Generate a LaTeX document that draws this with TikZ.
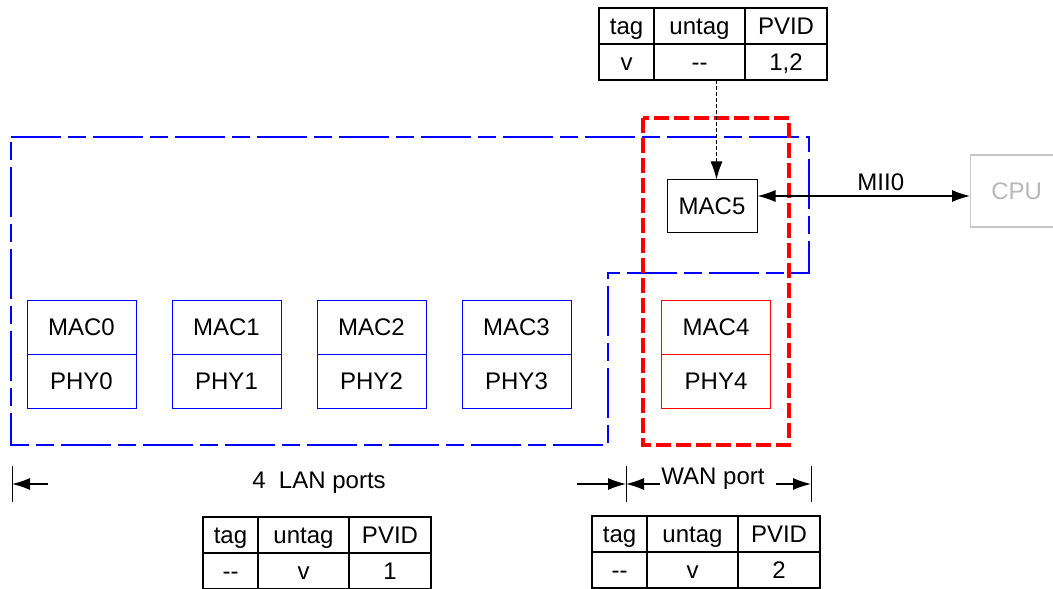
\documentclass[tikz,border=0pt]{standalone}
\usepackage{fontspec}
\setmainfont{Liberation Sans}
\usetikzlibrary{arrows.meta,positioning}
\begin{document}
\begin{tikzpicture}[x=0.5pt, y=-0.5pt, font=\fontsize{12}{14}\selectfont, >={Latex[length=9pt,width=6pt]},
    port/.style={draw=blue, line width=0.5pt, minimum width=54.5pt, minimum height=27pt, inner sep=0pt, outer sep=0pt, text height=11pt, text depth=2.5pt},
    cell/.style={draw, line width=0.6pt, minimum height=18pt, inner sep=0pt, outer sep=0pt, text height=11pt, text depth=2.5pt}]
    \useasboundingbox (0,0) rectangle (1053,588);
    \draw[blue, line width=1pt, dash pattern=on 25pt off 3.5pt on 9pt off 3.5pt] (11,137) -- (809,137) -- (809,273) -- (608,273) -- (608,445) -- (11,445) -- cycle;
    \draw[red, line width=2pt, dash pattern=on 7.5pt off 2.5pt] (643,118) rectangle (789,445);
    \foreach \i in {0,...,3} {\node[port] (mac\i) at (81.5+145*\i,327) {MAC\i}; \node[port, below=0pt of mac\i] (phy\i) {PHY\i};}
    \node[port, draw=red] (mac4) at (716,327) {MAC4}; \node[port, draw=red, below=0pt of mac4] (phy4) {PHY4};
    \node[draw, line width=0.5pt, minimum width=45pt, minimum height=26pt, inner sep=0pt, text height=11pt, text depth=2.5pt] (mac5) at (712,206) {MAC5};
    \node[draw=black!22, text=black!28, line width=0.6pt, minimum width=46pt, minimum height=36pt, anchor=west] (cpu) at (970,191) {CPU};
    \foreach \t/\x/\y/\a/\b/\c in {top/599/8/v/\mbox{-}\mbox{-}/{1,2}, lan/203/517/\mbox{-}\mbox{-}/v/1, wan/592/516/\mbox{-}\mbox{-}/v/2} {
        \node[cell, minimum width=27.5pt, anchor=north west] (\t-tag) at (\x,\y) {tag};
        \node[cell, minimum width=45.5pt, right=0pt of \t-tag] (\t-untag) {untag};
        \node[cell, minimum width=41pt, right=0pt of \t-untag] (\t-pvid) {PVID};
        \node[cell, minimum width=27.5pt, below=0pt of \t-tag] (\t-a) {\a};
        \node[cell, minimum width=45.5pt, below=0pt of \t-untag] (\t-b) {\b};
        \node[cell, minimum width=41pt, below=0pt of \t-pvid] (\t-c) {\c};
    }
    \draw[->, line width=0.5pt, dash pattern=on 2pt off 1pt] ([xshift=8.5pt]top-b.south) -- ([xshift=8.5pt]top-b.south |- mac5.north);
    \draw[<->, line width=0.6pt] ([yshift=5pt]mac5.east) -- ([yshift=5pt]mac5.east -| cpu.west) node[pos=0.58, above=-1pt] (mii) {MII0};
    % port widths
    \coordinate (t0) at (12,484); \coordinate (t1) at (626,484); \coordinate (t2) at (811,484);
    \foreach \p in {t0,t1,t2} \draw[line width=0.5pt] ([yshift=-9pt]\p) -- ([yshift=9pt]\p);
    \draw[->, line width=0.6pt] ([xshift=18pt]t0) -- (t0); \draw[->, line width=0.6pt] ([xshift=-24.5pt]t1) -- (t1);
    \draw[->, line width=0.6pt] ([xshift=17pt]t1) -- (t1); \draw[->, line width=0.6pt] ([xshift=-17.5pt]t2) -- (t2);
    \node (lan) at (319,483) {4\ \ LAN ports}; \node (wan) at (713,479) {WAN port};
\end{tikzpicture}
\end{document}
